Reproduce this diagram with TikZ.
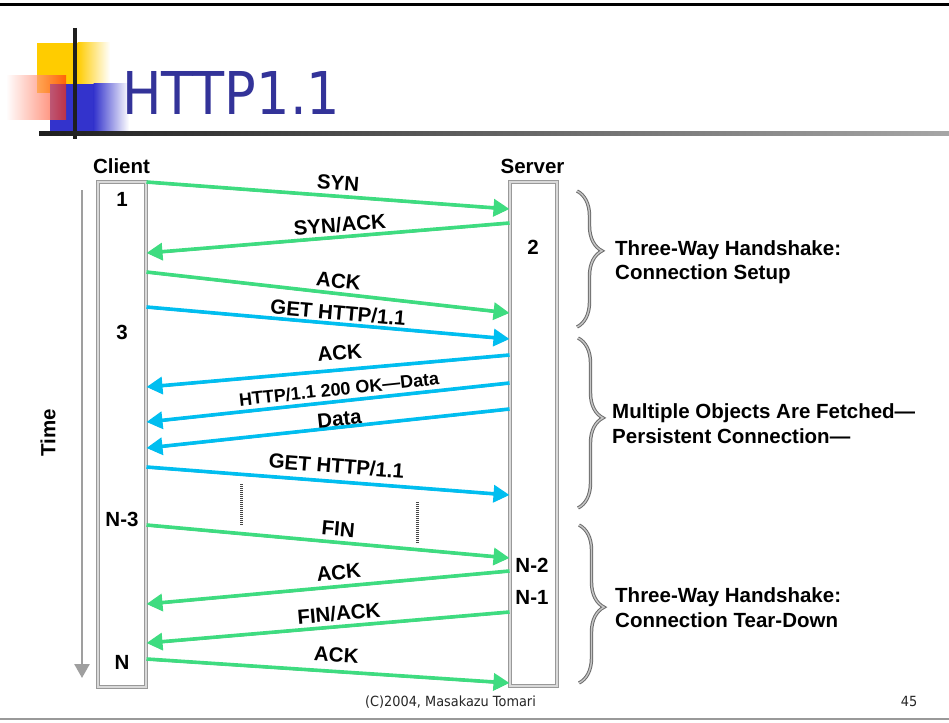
\documentclass[tikz,border=0pt]{standalone}
\usepackage{fontspec}
\setmainfont{Liberation Sans}
\newfontfamily\slidefont{DejaVu Sans}
\usetikzlibrary{arrows.meta,decorations.pathreplacing}

\definecolor{titleblue}{RGB}{51,51,153}
\definecolor{msggreen}{RGB}{62,220,128}
\definecolor{msgblue}{RGB}{0,190,240}
\definecolor{logoyellow}{RGB}{255,204,0}
\definecolor{logored}{RGB}{255,50,10}
\definecolor{logoblue}{RGB}{51,51,204}

\tikzset{
  lab/.style={font=\fontsize{20.5}{25}\selectfont\bfseries, inner sep=0pt,
              text height=14.7pt, text depth=0pt},
  smalllab/.style={lab, font=\fontsize{18}{22}\selectfont\bfseries, text height=12.9pt},
  sidelab/.style={lab, anchor=west},
  lifebox/.style={draw=gray!80, line width=1pt, double=gray!30, double distance=1.2pt,
                  fill=white, inner sep=0pt},
  msg/.style={draw=#1, line width=3.6pt,
              -{Triangle[length=16pt,width=17pt]},
              preaction={draw=black!80, transform canvas={yshift=-1.2pt}}},
  bracket/.style={decorate, decoration={brace, amplitude=25pt, aspect=#1},
                  draw=gray!85!black, line width=1pt, double=gray!45, double distance=1.4pt},
  gapline/.style={draw=gray!55!black, line width=3pt, dash pattern=on 1pt off 1pt},
  timeaxis/.style={draw=gray!75, line width=2.6pt, -{Triangle[length=14pt,width=15pt]}},
  footer/.style={font=\slidefont\fontsize{14}{16}\selectfont, text=black!85, inner sep=0pt}
}

\begin{document}
\begin{tikzpicture}[x=1pt, y=-1pt]
  \useasboundingbox (0,0) rectangle (949,722);
  \fill[white] (0,0) rectangle (949,722);

  % slide frame lines
  \draw[line width=3pt, black] (0,5) -- (949,5);
  \draw[line width=2pt, gray!80] (0,719) -- (949,719);

  % title logo: overlapping squares
  \fill[logoyellow] (37,43) rectangle (78,93);
  \shade[left color=logoyellow, right color=white] (77.5,43) rectangle (110,93);
  \fill[logoblue] (50,84) rectangle (94,133);
  \shade[left color=logoblue, right color=white] (93.5,84) rectangle (129,133);
  \shade[left color=white, right color=logored, opacity=0.68] (6,76) rectangle (66,120);
  \draw[line width=4pt, black!88] (75,28) -- (75,139);
  \shade[left color=black!88, right color=black!35] (39,132) rectangle (949,136);

  % title
  \node[anchor=base west, inner sep=0pt, text=titleblue,
        font=\slidefont\fontsize{59}{60}\selectfont] (title) at (122,115)
        {\scalebox{0.89}[1]{HTTP1.1}};

  % lifelines
  \node[lifebox, minimum width=48pt, minimum height=505pt] (client) at (122,434.5) {};
  \node[lifebox, minimum width=47pt, minimum height=504pt] (server) at (533.5,434) {};
  \node[lab] (clientlbl) at (121.5,166) {Client};
  \node[lab] (serverlbl) at (532.5,166.5) {Server};

  % step numbers
  \node[lab] (n1) at (122,199) {1};
  \node[lab] (n3) at (122,332) {3};
  \node[lab] (nN3) at (122,519) {N-3};
  \node[lab] (nN) at (122,662) {N};
  \node[lab] (n2) at (533,247) {2};
  \node[lab] (nN2) at (532,565) {N-2};
  \node[lab] (nN1) at (532,597) {N-1};

  % time axis
  \coordinate (t0) at (82,190);
  \coordinate (t1) at (82,678);
  \draw[timeaxis] (t0) -- (t1);
  \node[lab, rotate=90] (time) at (48,433) {Time};

  % connection setup
  \draw[msg=msggreen] (client.east |- 0,182) -- (server.west |- 0,209)
    node[lab, sloped, pos=.525, above=4.6pt] (m1) {SYN};
  \draw[msg=msggreen] (server.west |- 0,223) -- (client.east |- 0,253)
    node[lab, sloped, pos=.465, above=3.1pt] (m2) {SYN/ACK};
  \draw[msg=msggreen] (client.east |- 0,272) -- (server.west |- 0,313)
    node[lab, sloped, pos=.525, above=3.6pt] (m3) {ACK};

  % persistent connection
  \draw[msg=msgblue] (client.east |- 0,307) -- (server.west |- 0,339)
    node[lab, sloped, pos=.525, above=2.1pt] (m4) {GET HTTP/1.1};
  \draw[msg=msgblue] (server.west |- 0,355) -- (client.east |- 0,387)
    node[lab, sloped, pos=.464, above=8.3pt] (m5) {ACK};
  \draw[msg=msgblue] (server.west |- 0,383) -- (client.east |- 0,422)
    node[smalllab, sloped, pos=.466, above=4pt] (m6) {HTTP/1.1 200 OK—Data};
  \draw[msg=msgblue] (server.west |- 0,409) -- (client.east |- 0,448)
    node[lab, sloped, pos=.466, above=-0.6pt] (m7) {Data};
  \draw[msg=msgblue] (client.east |- 0,467) -- (server.west |- 0,495)
    node[lab, sloped, pos=.52, above=6.6pt] (m8) {GET HTTP/1.1};

  % omitted exchanges
  \coordinate (g1a) at (241,484);
  \coordinate (g1b) at (241,525);
  \coordinate (g2a) at (417,502);
  \coordinate (g2b) at (417,543);
  \draw[gapline] (g1a) -- (g1b);
  \draw[gapline] (g2a) -- (g2b);

  % connection tear-down
  \draw[msg=msggreen] (client.east |- 0,525) -- (server.west |- 0,558)
    node[lab, sloped, pos=.525, above=4.6pt] (m9) {FIN};
  \draw[msg=msggreen] (server.west |- 0,571) -- (client.east |- 0,604)
    node[lab, sloped, pos=.467, above=5pt] (m10) {ACK};
  \draw[msg=msggreen] (server.west |- 0,612) -- (client.east |- 0,643)
    node[lab, sloped, pos=.467, above=4.1pt] (m11) {FIN/ACK};
  \draw[msg=msggreen] (client.east |- 0,659) -- (server.west |- 0,683)
    node[lab, sloped, pos=.52, above=7.6pt] (m12) {ACK};

  % phase braces
  \coordinate (b1a) at (577,191);
  \coordinate (b1b) at (577,327);
  \coordinate (b2a) at (578,338);
  \coordinate (b2b) at (578,508);
  \coordinate (b3a) at (579,525);
  \coordinate (b3b) at (579,683);
  \draw[bracket=0.44] (b1a) -- (b1b);
  \draw[bracket=0.47] (b2a) -- (b2b);
  \draw[bracket=0.52] (b3a) -- (b3b);

  \node[sidelab] (s1a) at (615,248) {Three-Way Handshake:};
  \node[sidelab] (s1b) at (615,272) {Connection Setup};
  \node[sidelab] (s2a) at (612,411) {Multiple Objects Are Fetched—};
  \node[sidelab] (s2b) at (612,436) {Persistent Connection—};
  \node[sidelab] (s3a) at (615,595) {Three-Way Handshake:};
  \node[sidelab] (s3b) at (615,620) {Connection Tear-Down};

  % footer
  \node[footer, anchor=base] (credit) at (450.5,706)
       {\scalebox{0.92}[1]{(C)2004, Masakazu Tomari}};
  \node[footer, anchor=base] (page) at (909,706) {\scalebox{0.92}[1]{45}};
\end{tikzpicture}
\end{document}
